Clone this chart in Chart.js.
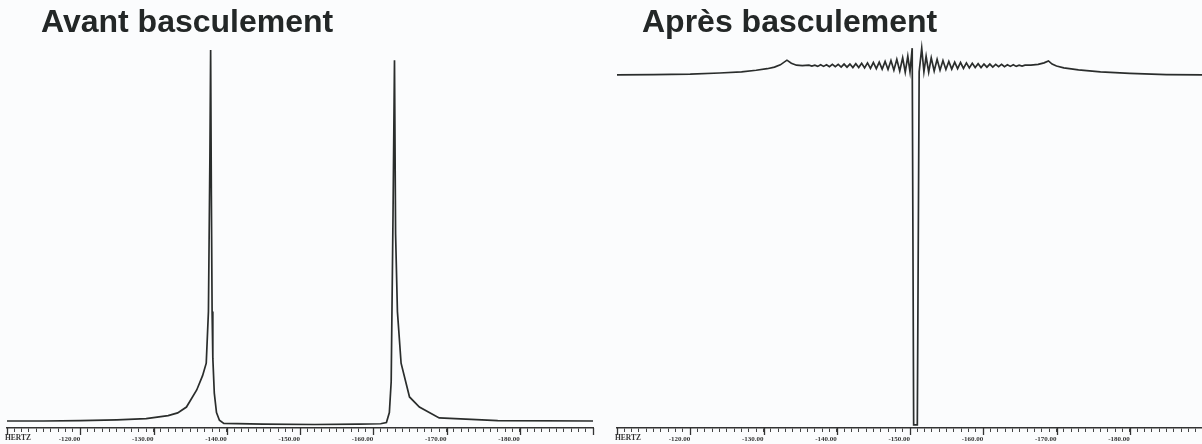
<!DOCTYPE html>
<html lang="fr">
<head>
    <meta charset="UTF-8">
    <title>Avant / Après basculement</title>
    <style>
        * {
            margin: 0;
            padding: 0;
            box-sizing: border-box;
        }

        body {
            width: 1202px;
            height: 444px;
            overflow: hidden;
            background: #fbfcfd;
            position: relative;
            font-family: 'Liberation Sans', Arial, sans-serif;
        }

        .panel {
            position: absolute;
            top: 0;
            width: 600px;
            height: 444px;
        }

        .panel h2 {
            position: absolute;
            top: 5px;
            left: 41px;
            font-size: 32px;
            line-height: 32px;
            font-weight: bold;
            color: #232727;
            white-space: nowrap;
        }

        .panel .unit {
            position: absolute;
            top: 433px;
            left: 0;
            font-family: 'Liberation Serif', serif;
            font-size: 7.5px;
            font-weight: bold;
            color: #333;
        }

        .panel canvas {
            position: absolute;
            top: 0;
            left: 0;
        }
    </style>
</head>
<body>
    <div class="panel" style="left: 0;">
        <canvas id="avantChart"></canvas>
        <h2>Avant basculement</h2>
        <span class="unit" style="left: 5px;">HERTZ</span>
    </div>
    <div class="panel" style="left: 610px;">
        <canvas id="apresChart"></canvas>
        <h2 style="left: 32px;">Après basculement</h2>
        <span class="unit" style="left: 5px;">HERTZ</span>
    </div>

    <script src="https://cdn.jsdelivr.net/npm/chart.js"></script>
    <script>
        // axis (Hz)
        var hzMin = -190;
        var hzMax = -110;
        var majorTicks = [-120, -130, -140, -150, -160, -170, -180];

        // spectre avant basculement
        var avantHz = [-110, -115, -120, -125, -129, -132, -133.3, -134.5, -135.9, -136.7,
            -137.2, -137.5, -137.7, -137.8, -137.9, -138.0, -138.1, -138.3, -138.6,
            -139, -139.6, -145, -152, -158, -161, -161.8, -162.2, -162.45, -162.7,
            -162.9, -163.05, -163.3, -163.8, -164.95, -166.3, -169, -177, -190];
        var avantInt = [1.8, 1.8, 1.9, 2.1, 2.4, 3.2, 3.9, 5.4, 9.8, 13.5,
            16.7, 30, 70, 97.4, 60, 30, 18, 9, 4,
            2, 1.2, 1.0, 0.9, 1.0, 1.1, 1.4, 4, 12, 55,
            94.8, 50, 30, 16.7, 8, 5.4, 2.6, 1.9, 1.8];

        // spectre après basculement
        var apresHz = [-110, -115, -120, -124, -127, -129, -130.5, -131.5, -132.3, -133.2,
            -133.8, -134.5, -135.3,
            -136.2, -136.6, -137.0, -137.4, -137.8, -138.2, -138.6, -139.0, -139.4, -139.8,
            -140.2, -140.6, -141.0, -141.4, -141.8, -142.2, -142.6, -143.0, -143.4, -143.8,
            -144.2, -144.6, -145.0, -145.4, -145.8, -146.2, -146.6, -147.0, -147.4, -147.8,
            -148.2, -148.6, -149.0, -149.35, -149.7, -150.0, -150.3, -150.5, -151.0, -151.25,
            -151.6, -151.9, -152.2, -152.55, -152.9, -153.3, -153.7, -154.1, -154.5, -154.9,
            -155.3, -155.7, -156.1, -156.5, -156.9, -157.3, -157.7, -158.1, -158.5, -158.9,
            -159.3, -159.7, -160.1, -160.5, -160.9, -161.3, -161.7, -162.1, -162.5, -162.9,
            -163.3, -163.7, -164.1, -164.5, -164.9, -165.3, -165.7,
            -166.5, -167.5, -168.3, -168.9, -169.4, -170, -171, -173, -176, -180, -185, -190];
        var apresInt = [91.0, 91.1, 91.2, 91.5, 91.8, 92.2, 92.6, 93.0, 93.6, 94.8,
            94.0, 93.5, 93.4,
            93.5, 93.3, 93.5, 93.2, 93.6, 93.2, 93.6, 93.1, 93.7, 93.1,
            93.7, 93.0, 93.8, 93.0, 93.8, 92.9, 93.9, 92.9, 94.0, 92.8,
            94.1, 92.7, 94.2, 92.6, 94.3, 92.5, 94.5, 92.4, 94.7, 92.2,
            95.0, 92.0, 95.4, 91.7, 95.8, 91.8, 97.9, 0.8, 0.8, 91.8,
            97.9, 91.8, 95.8, 91.7, 95.4, 92.0, 95.0, 92.2, 94.7, 92.4,
            94.5, 92.5, 94.3, 92.6, 94.2, 92.7, 94.1, 92.8, 94.0, 92.9,
            93.9, 92.9, 93.8, 93.0, 93.8, 93.0, 93.7, 93.1, 93.7, 93.1,
            93.6, 93.2, 93.6, 93.2, 93.5, 93.3, 93.5,
            93.5, 93.7, 94.1, 94.6, 93.8, 93.3, 92.8, 92.3, 91.8, 91.4, 91.1, 91.0];

        var lineColor = '#2a2d2c';

        // longer tick marks every 10 Hz
        var majorTickPlugin = {
            id: 'majorTicks',
            afterDraw: function (chart) {
                var xs = chart.scales.x;
                var ctx = chart.ctx;
                ctx.save();
                ctx.strokeStyle = '#333';
                ctx.lineWidth = 1.3;
                [hzMax].concat(majorTicks).concat([hzMin]).forEach(function (v) {
                    var px = Math.round(xs.getPixelForValue(v)) + 0.5;
                    ctx.beginPath();
                    ctx.moveTo(px, xs.top);
                    ctx.lineTo(px, xs.top + 7);
                    ctx.stroke();
                });
                ctx.restore();
            }
        };

        function makeChart(id, hz, values) {
            var points = hz.map(function (h, i) {
                return { x: h, y: values[i] };
            });
            return new Chart(document.getElementById(id), {
                type: 'line',
                data: {
                    datasets: [{
                        data: points,
                        borderColor: lineColor,
                        borderWidth: 1.7,
                        pointRadius: 0,
                        tension: 0,
                        fill: false
                    }]
                },
                options: {
                    responsive: true,
                    maintainAspectRatio: false,
                    animation: false,
                    layout: {
                        padding: { top: 40, left: 7, right: 7, bottom: 0 }
                    },
                    plugins: {
                        legend: { display: false },
                        tooltip: { enabled: false }
                    },
                    scales: {
                        x: {
                            type: 'linear',
                            min: hzMin,
                            max: hzMax,
                            reverse: true,
                            afterFit: function (scale) {
                                scale.height = 16;
                            },
                            border: {
                                display: true,
                                color: '#333',
                                width: 1.5
                            },
                            grid: {
                                drawOnChartArea: false,
                                drawTicks: true,
                                tickLength: 4,
                                tickColor: '#444',
                                tickWidth: 1
                            },
                            ticks: {
                                stepSize: 1,
                                autoSkip: false,
                                maxRotation: 0,
                                minRotation: 0,
                                align: 'end',
                                padding: 3,
                                color: '#333',
                                font: { family: 'Liberation Serif', size: 7, weight: 'bold' },
                                callback: function (value) {
                                    var v = Math.round(value);
                                    return majorTicks.indexOf(v) >= 0 ? v.toFixed(2) : '';
                                }
                            }
                        },
                        y: {
                            display: false,
                            min: 0,
                            max: 100
                        }
                    }
                },
                plugins: [majorTickPlugin]
            });
        }

        var avantChart = makeChart('avantChart', avantHz, avantInt);
        var apresChart = makeChart('apresChart', apresHz, apresInt);
    </script>
</body>
</html>
